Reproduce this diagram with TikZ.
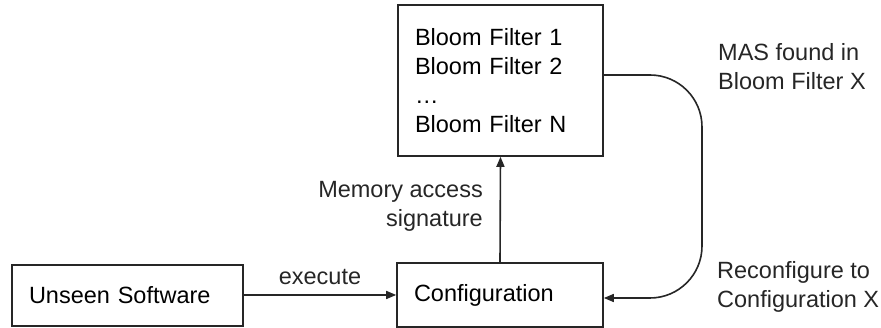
\documentclass[tikz,border=0pt]{standalone}
\usepackage{fontspec}
\setmainfont{Liberation Sans}
\usetikzlibrary{arrows.meta}
\begin{document}
\begin{tikzpicture}[x=1pt,y=-1pt,
  box/.style={draw=black!85, line width=1.6pt, rectangle, inner xsep=17pt, inner ysep=0pt, align=left, anchor=center},
  lbl/.style={inner sep=0pt, text=black!85},
  conn/.style={draw=black!85, line width=1.6pt, -{Triangle[length=10pt,width=8pt]}},
  every node/.style={font=\fontsize{23.5}{29}\selectfont}
]
\useasboundingbox (0,0) rectangle (881,328);
\node[box, minimum width=205pt, minimum height=151pt, text width=171pt] (bloom) at (500.5,80.5)
  {Bloom Filter 1\\Bloom Filter 2\\…\\Bloom Filter N};
\node[box, minimum width=231pt, minimum height=61pt, text width=197pt] (soft) at (127.5,295.5) {Unseen Software};
\node[box, minimum width=206pt, minimum height=64pt, text width=172pt] (config) at (500,295) {Configuration};
\coordinate (c1) at (702,75);
\coordinate (c2) at (702,298);
\draw[conn] (soft.east |- config) -- node[lbl, above=9pt] (exec) {execute} (config.west);
\draw[conn] (config.north) -- (bloom.south);
\draw[conn, rounded corners=52pt] (bloom.east |- c1) -- (c1) -- (c2) -- (config.east |- c2);
\node[lbl, align=right, anchor=north east] (mem) at (483,181) {Memory access\\signature};
\node[lbl, align=left, anchor=north west] (mas) at (718,43) {MAS found in\\Bloom Filter X};
\node[lbl, align=left, anchor=north west] (rec) at (717,261) {Reconfigure to\\Configuration X};
\end{tikzpicture}
\end{document}
